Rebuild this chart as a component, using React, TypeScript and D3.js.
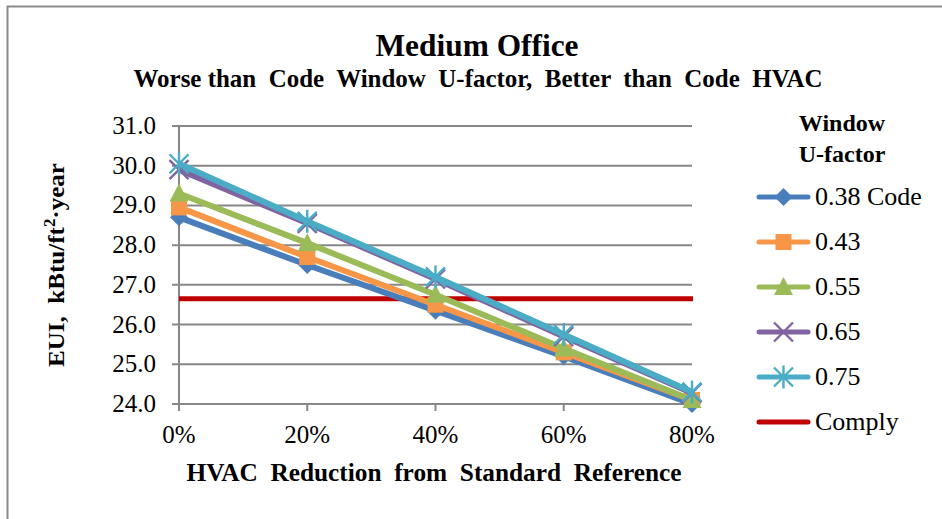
import React from "react";
import * as d3 from "d3";

const categories = ["0%", "20%", "40%", "60%", "80%"];
const seriesNames = ["0.38 Code", "0.43", "0.55", "0.65", "0.75"];
const s038 = [28.7, 27.5, 26.35, 25.2, 24.0];
const s043 = [28.95, 27.7, 26.5, 25.3, 24.1];
const s055 = [29.3, 28.05, 26.75, 25.4, 24.1];
const s065 = [29.9, 28.55, 27.15, 25.7, 24.28];
const s075 = [30.05, 28.6, 27.2, 25.75, 24.3];
const complyValue = 26.65;
const yTicks = [24, 25, 26, 27, 28, 29, 30, 31];

const colors = ["#4A7EBB", "#F79646", "#9BBB59", "#8064A2", "#4BACC6"];
const complyColor = "#C00000";
const markers = ["diamond", "square", "triangle", "x", "asterisk"];

const FONT = "'Liberation Serif', serif";
const T = { fontFamily: FONT };
const TP = { fontFamily: FONT, whiteSpace: "pre" as const };

function Marker({ type, x, y, color }: { type: string; x: number; y: number; color: string }) {
  if (type === "diamond") {
    const r = 9;
    return <path d={`M${x},${y - r}L${x + r},${y}L${x},${y + r}L${x - r},${y}Z`} fill={color} />;
  }
  if (type === "square") {
    const r = 8;
    return <rect x={x - r} y={y - r} width={2 * r} height={2 * r} fill={color} />;
  }
  if (type === "triangle") {
    const w = 9.5, h = 9;
    return <path d={`M${x},${y - h - 1}L${x + w},${y + h - 1}L${x - w},${y + h - 1}Z`} fill={color} />;
  }
  const r = 9.5;
  const d = type === "x"
    ? `M${x - r},${y - r}L${x + r},${y + r}M${x - r},${y + r}L${x + r},${y - r}`
    : `M${x - r},${y - r}L${x + r},${y + r}M${x - r},${y + r}L${x + r},${y - r}M${x},${y - r - 2}L${x},${y + r + 2}`;
  return <path d={d} stroke={color} strokeWidth={2.4} fill="none" />;
}

export default function App() {
  const data = [s038, s043, s055, s065, s075];
  const x = d3.scalePoint<number>().domain(d3.range(categories.length)).range([179, 692]);
  const y = d3.scaleLinear().domain([24, 31]).range([404, 126]);
  const line = d3.line<number>().x((_, i) => x(i)!).y((v) => y(v));
  const grid = "#878787";

  return (
    <svg width={942} height={519} style={{ position: "absolute", left: 0, top: 0, background: "#fff", fontFamily: FONT }}>
      <rect x={7.5} y={6.5} width={960} height={540} fill="none" stroke="#8a8a8a" strokeWidth={2} />

      <text x={477} y={56} textAnchor="middle" fontWeight="bold" fontSize={31} textLength={203}
        lengthAdjust="spacingAndGlyphs" style={T}>Medium Office</text>
      <text x={478} y={87} textAnchor="middle" fontWeight="bold" fontSize={25} textLength={689}
        lengthAdjust="spacingAndGlyphs" style={TP}>
        {"Worse than  Code  Window  U-factor,  Better  than  Code  HVAC"}
      </text>

      {yTicks.map((t) => (
        <g key={t}>
          <line x1={172} x2={692} y1={y(t)} y2={y(t)} stroke={grid} strokeWidth={2} />
          <text x={156} y={y(t) + 8} textAnchor="end" fontSize={25} style={T}>{t.toFixed(1)}</text>
        </g>
      ))}
      <line x1={179} x2={179} y1={126} y2={404} stroke={grid} strokeWidth={2} />
      {categories.map((c, i) => (
        <g key={c}>
          <line x1={x(i)} x2={x(i)} y1={404} y2={411} stroke={grid} strokeWidth={2} />
          <text x={x(i)} y={443} textAnchor="middle" fontSize={25} style={T}>{c}</text>
        </g>
      ))}

      <text x={434} y={481} textAnchor="middle" fontWeight="bold" fontSize={25} textLength={495}
        lengthAdjust="spacingAndGlyphs" style={TP}>
        {"HVAC  Reduction  from  Standard  Reference"}
      </text>
      <text transform="translate(64,265) rotate(-90)" textAnchor="middle" fontWeight="bold" fontSize={24}
        textLength={204} lengthAdjust="spacingAndGlyphs" style={TP}>
        {"EUI,  kBtu/ft"}<tspan dy={-9} fontSize={16}>2</tspan><tspan dy={9}>{"·year"}</tspan>
      </text>

      <line x1={179} x2={693} y1={y(complyValue)} y2={y(complyValue)} stroke={complyColor} strokeWidth={5} />

      {data.map((s, si) => (
        <g key={si}>
          <path d={line(s)!} fill="none" stroke={colors[si]} strokeWidth={6} strokeLinejoin="round" />
          {s.map((v, i) => (
            <Marker key={i} type={markers[si]} x={x(i)!} y={y(v)} color={colors[si]} />
          ))}
        </g>
      ))}

      <text x={842} y={131} textAnchor="middle" fontWeight="bold" fontSize={24} style={T}>Window</text>
      <text x={842} y={162} textAnchor="middle" fontWeight="bold" fontSize={24} style={T}>U-factor</text>
      {[...seriesNames, "Comply"].map((name, i) => {
        const ly = 197 + i * 45;
        const c = i < 5 ? colors[i] : complyColor;
        return (
          <g key={name}>
            <line x1={759} x2={808} y1={ly} y2={ly} stroke={c} strokeWidth={5} strokeLinecap="round" />
            {i < 5 && <Marker type={markers[i]} x={783.5} y={ly} color={c} />}
            <text x={815} y={ly + 8} fontSize={26} style={T}>{name}</text>
          </g>
        );
      })}
    </svg>
  );
}
